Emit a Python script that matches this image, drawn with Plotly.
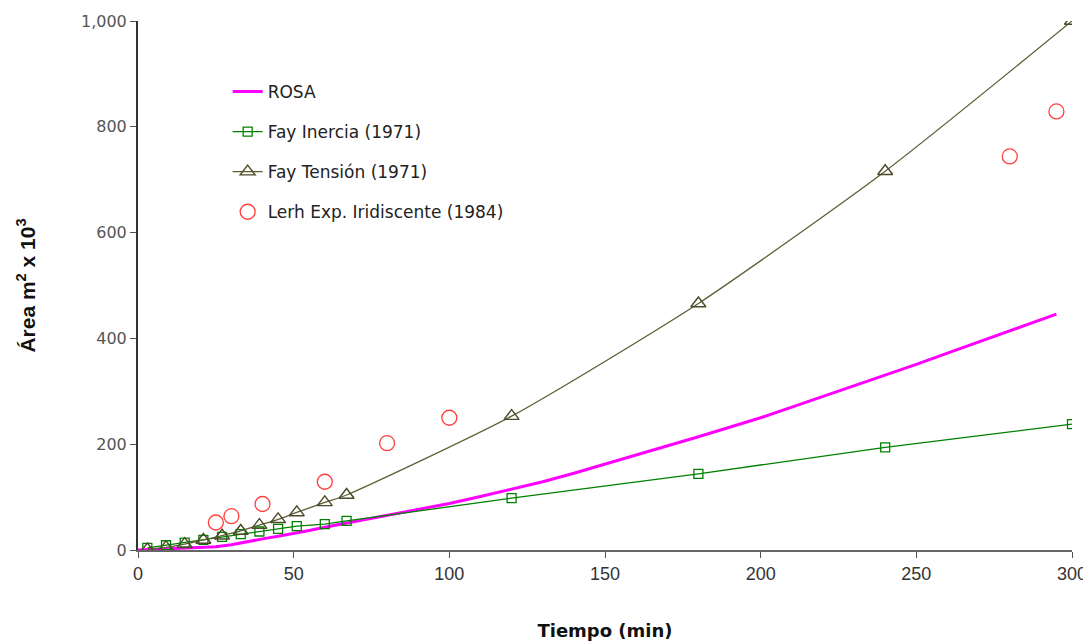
import plotly.graph_objects as go

# ROSA model
rosa_t = [0, 5, 10, 15, 20, 25, 30, 35, 40, 45, 50, 55, 60, 70, 80, 90, 100, 110, 120, 130,
          140, 150, 160, 170, 180, 190, 200, 210, 220, 230, 240, 250, 260, 270, 280, 290, 295]
rosa_v = [0, 1, 2, 3, 4, 6, 10, 16, 21, 26, 31, 37, 43, 54, 65, 76, 88, 101, 115, 129,
          145, 162, 180, 197, 214, 232, 250, 270, 290, 310, 330, 351, 372, 393, 414, 435, 446]

# Fay models (1971)
fay_t = [3, 9, 15, 21, 27, 33, 39, 45, 51, 60, 67, 120, 180, 240, 300]
fay_inercia = [4, 9, 14, 19, 25, 30, 35, 40, 45, 49, 55, 98, 144, 194, 238]
fay_tension = [1, 5, 11, 19, 27, 36, 47, 58, 71, 90, 104, 253, 466, 716, 1000]

# Lerh experimental (1984)
lerh_t = [25, 30, 40, 60, 80, 100, 280, 295]
lerh_v = [52, 64, 87, 129, 202, 250, 744, 829]

x_ticks = [0, 50, 100, 150, 200, 250, 300]
y_ticks = [0, 200, 400, 600, 800, 1000]

fig = go.Figure()
fig.add_trace(go.Scatter(x=rosa_t, y=rosa_v, mode="lines", name="ROSA",
                         legendgroup="a",
                         line=dict(color="#FF00FF", width=3)))
fig.add_trace(go.Scatter(x=fay_t, y=fay_inercia, mode="lines+markers", name="Fay Inercia (1971)",
                         legendgroup="b",
                         line=dict(color="#008000", width=1.3),
                         marker=dict(symbol="square-open", size=9, color="#008000",
                                     line=dict(width=1.3))))
fig.add_trace(go.Scatter(x=fay_t, y=fay_tension, mode="lines+markers", name="Fay Tensión (1971)",
                         legendgroup="c",
                         line=dict(color="#5E5E36", width=1.3, shape="spline", smoothing=0.6),
                         marker=dict(symbol="triangle-up-open", size=13, color="#4A4A28",
                                     line=dict(width=1.4))))
fig.add_trace(go.Scatter(x=lerh_t, y=lerh_v, mode="markers", name="Lerh Exp. Iridiscente (1984)",
                         legendgroup="d",
                         marker=dict(symbol="circle-open", size=15, color="#FF4040",
                                     line=dict(width=1.3))))

# the page body adds an 8px offset; margins compensate so the plot area lands at 138..1072 x 21..550
fig.update_layout(
    width=1083, height=634,
    margin=dict(l=130, r=19, t=13, b=92, autoexpand=False),
    paper_bgcolor="white", plot_bgcolor="white",
    font=dict(family="DejaVu Sans, Verdana, sans-serif", color="#333333", size=15),
    showlegend=True,
    legend=dict(x=0.096, y=0.9, xanchor="left", yanchor="top",
                bgcolor="rgba(0,0,0,0)", borderwidth=0,
                traceorder="grouped", tracegroupgap=15,
                font=dict(size=17, color="#222222")),
)
fig.update_xaxes(range=[0, 300], tickvals=x_ticks, showgrid=False, zeroline=False,
                 automargin=False,
                 showline=True, linecolor="#666666", linewidth=2,
                 ticks="outside", ticklen=6, tickcolor="#555555",
                 tickfont=dict(family="Liberation Sans Narrow, Liberation Sans, Arial", size=18, color="#333333"),
                 title=dict(text="<b>Tiempo (min)</b>", font=dict(size=18, color="#111111"), standoff=42))
fig.update_yaxes(range=[0, 1000], tickvals=y_ticks, tickformat=",", showgrid=False, zeroline=False,
                 automargin=False,
                 showline=True, linecolor="#333333", linewidth=2, mirror=False,
                 ticks="outside", ticklen=6, tickcolor="#555555",
                 tickfont=dict(size=16, color="#555555"),
                 title=dict(text="<b>Área m<sup>2</sup> x 10<sup>3</sup></b>",
                            font=dict(family="Liberation Sans, Arial", size=21, color="#111111"), standoff=40))

fig.write_html("out.html")
